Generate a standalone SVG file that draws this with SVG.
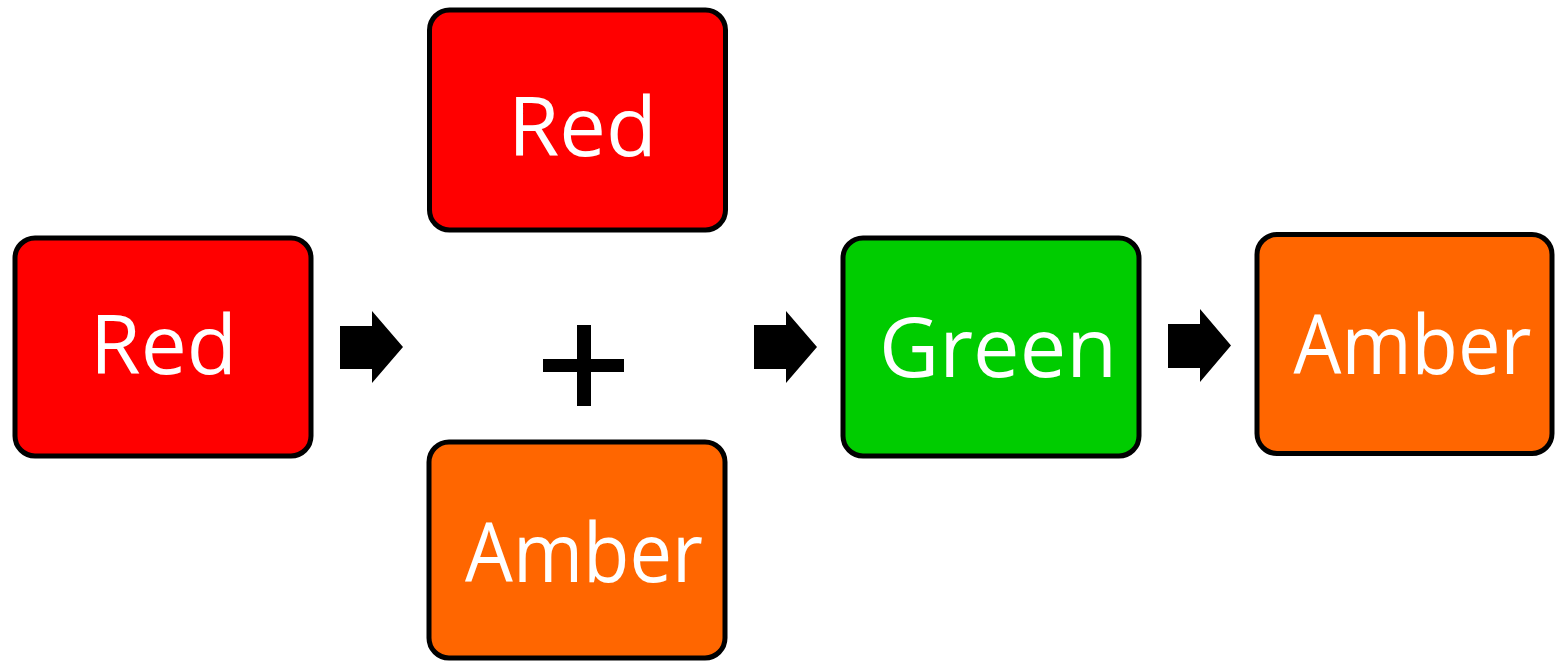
<svg xmlns="http://www.w3.org/2000/svg" width="1555" height="661" viewBox="0 0 1555 661">
<style>
.box{stroke:#000;stroke-width:5}
.red{fill:#FF0000}
.amber{fill:#FF6600}
.green{fill:#00CC00}
.lbl{font-family:"Open Sans","Noto Sans",sans-serif;font-size:82px;fill:#fff;text-anchor:middle}
.arr{fill:#000}
</style>
<rect width="1555" height="661" fill="#fff"/>
<g id="node-red-1">
<rect class="box red" x="15" y="238" width="296" height="218" rx="20"/>
<text class="lbl" x="163.5" y="374" textLength="147" lengthAdjust="spacingAndGlyphs">Red</text>
</g>
<g id="node-red-2">
<rect class="box red" x="429.5" y="10" width="296" height="220" rx="20"/>
<text class="lbl" x="582.5" y="156" textLength="149" lengthAdjust="spacingAndGlyphs">Red</text>
</g>
<g id="node-amber-1">
<rect class="box amber" x="429" y="442" width="296" height="216" rx="20"/>
<text class="lbl" x="584" y="582" textLength="238" lengthAdjust="spacingAndGlyphs">Amber</text>
</g>
<g id="plus">
<polygon class="arr" points="577,325 591,325 591,359 624,359 624,372 591,372 591,406 577,406 577,372 543,372 543,359 577,359"/>
</g>
<g id="node-green">
<rect class="box green" x="843" y="238" width="296" height="218" rx="20"/>
<text class="lbl" x="998" y="377" textLength="238" lengthAdjust="spacingAndGlyphs">Green</text>
</g>
<g id="node-amber-2">
<rect class="box amber" x="1257" y="234.5" width="295" height="219" rx="20"/>
<text class="lbl" x="1412.5" y="374" textLength="238" lengthAdjust="spacingAndGlyphs">Amber</text>
</g>
<g id="connectors">
<polygon class="arr" points="340,326 372,326 372,311 403,347 372,383 372,369 340,369"/>
<polygon class="arr" points="754,325 786,325 786,311 817,347 786,383 786,369 754,369"/>
<polygon class="arr" points="1168,324 1200,324 1200,309 1231,345.5 1200,382 1200,368 1168,368"/>
</g>
</svg>
